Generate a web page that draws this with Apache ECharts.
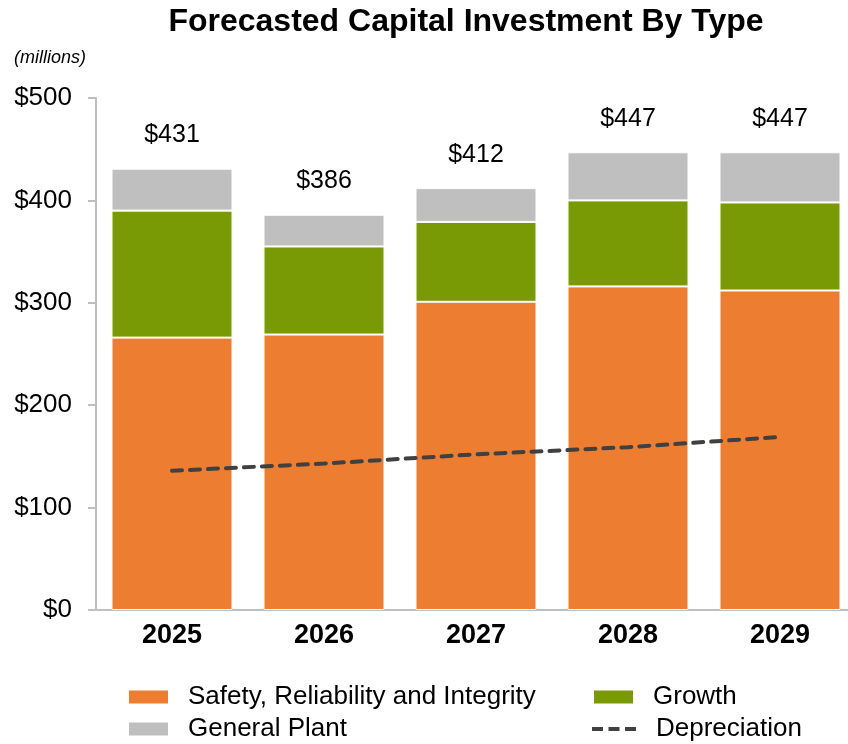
<!DOCTYPE html>
<html>
<head>
<meta charset="utf-8">
<script src="https://cdn.jsdelivr.net/npm/echarts@6/dist/echarts.min.js"></script>
<style>
  html, body { margin: 0; padding: 0; background: #fff; }
  #chart { width: 848px; height: 744px; }
</style>
</head>
<body>
<div id="chart"></div>
<script>
// 数据
var years = ['2025', '2026', '2027', '2028', '2029']
var safety = [266, 269, 301, 316, 312]
var growth = [124, 86, 78, 84, 86]
var generalPlant = [41, 31, 33, 47, 49]
var depreciation = [136, 143, 152, 159, 169]
var yTicks = [0, 100, 200, 300, 400, 500]

var totals = years.map(function (y, i) {
    return safety[i] + growth[i] + generalPlant[i]
})

var font = 'Liberation Sans, Arial, sans-serif'
var legendText = { fontFamily: font, fontSize: 26, color: '#000', padding: [0, 0, 0, 14] }

var option = {
    animation: false,
    title: [{
        text: 'Forecasted Capital Investment By Type',
        left: 461,
        textAlign: 'center',
        top: 1,
        textStyle: { fontFamily: font, fontSize: 32, fontWeight: 'bold', color: '#000' }
    }, {
        text: '(millions)',
        left: 9,
        top: 44,
        textStyle: { fontFamily: font, fontSize: 18, fontStyle: 'italic', fontWeight: 'normal', color: '#000' }
    }],
    legend: [{
        orient: 'vertical',
        left: 127,
        top: 684,
        padding: 0,
        icon: 'rect',
        itemWidth: 41,
        itemHeight: 15,
        itemGap: 6,
        data: ['Safety, Reliability and Integrity', 'General Plant'],
        textStyle: legendText
    }, {
        left: 592,
        top: 684,
        padding: 0,
        icon: 'rect',
        itemWidth: 41,
        itemHeight: 15,
        data: ['Growth'],
        textStyle: legendText
    }, {
        left: 592,
        top: 716,
        padding: 0,
        itemWidth: 44,
        itemHeight: 4,
        data: [{
            name: 'Depreciation',
            icon: 'path://M0,0h11v4h-11z M16.5,0h11v4h-11z M33,0h11v4h-11z',
            itemStyle: { color: '#404040' },
            lineStyle: { width: 0 }
        }],
        textStyle: { fontFamily: font, fontSize: 26, color: '#000', padding: [0, 0, 0, 15] }
    }],
    grid: { left: 96, top: 98, width: 760, height: 512, outerBoundsMode: 'none' },
    xAxis: {
        type: 'category',
        data: years,
        axisLine: { lineStyle: { color: '#BFBFBF', width: 2 } },
        axisTick: { show: false },
        axisLabel: { fontFamily: font, fontSize: 27, fontWeight: 'bold', color: '#000', margin: 12 }
    },
    yAxis: {
        type: 'value',
        min: yTicks[0],
        max: yTicks[yTicks.length - 1],
        interval: 100,
        splitLine: { show: false },
        axisLine: { show: true, lineStyle: { color: '#BFBFBF', width: 2 } },
        axisTick: { show: true, length: 8, lineStyle: { color: '#BFBFBF', width: 2 } },
        axisLabel: {
            fontFamily: font, fontSize: 26, color: '#000', margin: 24,
            formatter: function (v) { return '$' + v }
        }
    },
    series: [{
        name: 'Safety, Reliability and Integrity',
        type: 'bar',
        stack: 'capex',
        barWidth: 121,
        data: safety,
        itemStyle: { color: '#ED7D31', borderColor: '#fff', borderWidth: 1 }
    }, {
        name: 'Growth',
        type: 'bar',
        stack: 'capex',
        barWidth: 121,
        data: growth,
        itemStyle: { color: '#799A05', borderColor: '#fff', borderWidth: 1 }
    }, {
        name: 'General Plant',
        type: 'bar',
        stack: 'capex',
        barWidth: 121,
        data: generalPlant,
        itemStyle: { color: '#BFBFBF', borderColor: '#fff', borderWidth: 1 },
        label: {
            show: true,
            position: 'top',
            distance: 21,
            fontFamily: font,
            fontSize: 25,
            color: '#000',
            formatter: function (p) { return '$' + totals[p.dataIndex] }
        }
    }, {
        name: 'Depreciation',
        type: 'line',
        data: depreciation,
        symbol: 'none',
        z: 5,
        lineStyle: { color: '#404040', width: 4, type: [10, 8], cap: 'round' },
        itemStyle: { color: '#404040' }
    }]
}

echarts.init(document.getElementById('chart')).setOption(option)
</script>
</body>
</html>
